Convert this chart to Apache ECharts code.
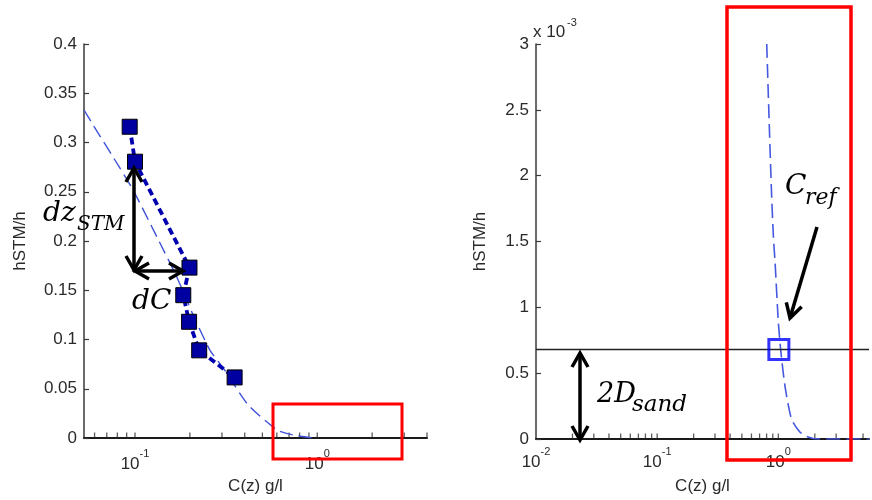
<!DOCTYPE html>
<html><head><meta charset="utf-8">
<script src="https://cdn.jsdelivr.net/npm/echarts@6/dist/echarts.min.js"></script>
<style>html,body{margin:0;padding:0;background:#fff}#c{width:872px;height:500px}</style>
</head><body><div id="c"></div>
<script>
// ---------- data ----------
// left panel: model curve (thin dashed)
const leftCurveX = [0.0525, 0.0588, 0.0827, 0.0975, 0.132, 0.170, 0.206, 0.258, 0.305, 0.418, 0.603, 0.738, 0.95];
const leftCurveY = [0.333, 0.318, 0.274, 0.252, 0.204, 0.163, 0.127, 0.089, 0.071, 0.0335, 0.0081, 0.003, 0];
// left panel: measured points (squares, thick dashed)
const measX = [0.0935, 0.100, 0.199, 0.184, 0.198, 0.225, 0.352];
const measY = [0.316, 0.2805, 0.173, 0.145, 0.118, 0.089, 0.0615];
// right panel: model curve near the bed (y in units of 1e-3)
const rightCurveX = [0.802, 0.844, 0.881, 0.910, 0.94, 1.0, 1.05, 1.135, 1.285, 1.505, 1.76, 2.13, 5.6];
const rightCurveY = [3.0, 2.35, 1.84, 1.54, 1.34, 0.886, 0.66, 0.40, 0.15, 0.053, 0.015, 0, 0];
// reference point and 2*D_sand level
const crefX = 1.01;
const sandLevel = 0.68;
// tick values
const leftYTicksMax = 0.4, leftYStep = 0.05;
const rightYTicksMax = 3, rightYStep = 0.5;
const leftXTicks = [0.06,0.07,0.08,0.09,0.1,0.2,0.3,0.4,0.5,0.6,0.7,0.8,0.9,1,2,3,4];
const rightXTicks = [0.02,0.03,0.04,0.05,0.06,0.07,0.08,0.09,0.1,0.2,0.3,0.4,0.5,0.6,0.7,0.8,0.9,1,2,3,4,5];
const xName = 'C(z) g/l';
const yName = 'hSTM/h';

// ---------- chart ----------
const FONT = '"Liberation Sans", Arial, sans-serif';
const TXT = '#2a2a2a';
const MATH = '"DejaVu Serif", serif';
const zip = (a, b) => a.map((v, i) => [v, b[i]]);

function pow10Label(v) {
  const e = Math.log10(v);
  const r = Math.round(e);
  if (Math.abs(e - r) > 1e-6) return '';
  return '{b|10}{s|' + r + '}';
}
const labelRich = {
  b: {fontSize: 17, fontFamily: FONT, color: TXT, verticalAlign: 'bottom', padding: [8, 0, 0, 0]},
  s: {fontSize: 11, fontFamily: FONT, color: TXT, verticalAlign: 'top'}
};

function xAxisCfg(idx, min, max, margin) {
  return {
    type: 'log', gridIndex: idx, min: min, max: max, logBase: 10,
    name: xName, nameLocation: 'middle', nameGap: 39,
    nameTextStyle: {fontSize: 17, fontFamily: FONT, color: TXT},
    axisLine: {onZero: false, lineStyle: {color: '#1a1a1a', width: 2}},
    axisTick: {show: false},
    splitLine: {show: false}, minorSplitLine: {show: false},
    axisLabel: {formatter: pow10Label, rich: labelRich, margin: margin, showMinLabel: true, showMaxLabel: true}
  };
}
function yAxisCfg(idx, max, step, gap) {
  return {
    type: 'value', gridIndex: idx, min: 0, max: max, interval: step,
    name: yName, nameLocation: 'middle', nameGap: gap,
    nameTextStyle: {fontSize: 17, fontFamily: FONT, color: TXT},
    axisLine: {show: true, onZero: false, lineStyle: {color: '#3a3a3a', width: 1.5}},
    axisTick: {show: true, inside: true, length: 5, lineStyle: {color: '#3a3a3a', width: 1.2}},
    splitLine: {show: false},
    axisLabel: {fontSize: 17, fontFamily: FONT, color: TXT, margin: 7}
  };
}
function tickSeries(idx, vals) {
  return {
    type: 'scatter', xAxisIndex: idx, yAxisIndex: idx, silent: true, z: 1,
    data: vals.map(v => [v, 0]), symbol: 'rect', symbolSize: [1.3, 5], symbolOffset: [0, -3],
    itemStyle: {color: '#333'}, animation: false
  };
}

// ---------- annotations (overlay) ----------
const ann = [];
function seg(pts, w) {
  ann.push({type: 'polyline', z: 100, shape: {points: pts}, style: {stroke: '#000', lineWidth: w || 3.5, fill: 'none', lineJoin: 'miter', lineCap: 'butt'}});
}
function head(tx, ty, fx, fy, len, half) {
  const dx = tx - fx, dy = ty - fy, L = Math.hypot(dx, dy);
  const ux = dx / L, uy = dy / L, px = -uy, py = ux;
  const bx = tx - ux * len, by = ty - uy * len;
  seg([[bx + px * half, by + py * half], [tx, ty], [bx - px * half, by - py * half]]);
}
function arrow(x1, y1, x2, y2, both) {
  seg([[x1, y1], [x2, y2]]);
  head(x2, y2, x1, y1, 14, 8);
  if (both) head(x1, y1, x2, y2, 14, 8);
}
function txt(s, x, y, size) {
  ann.push({type: 'text', z: 100, x: x, y: y, style: {text: s, font: 'italic ' + size + 'px ' + MATH, fill: '#000', textAlign: 'left', textVerticalAlign: 'middle', align: 'left', verticalAlign: 'middle'}});
}
function rect(x, y, w, h, lw) {
  ann.push({type: 'rect', z: 100, shape: {x: x, y: y, width: w, height: h}, style: {stroke: '#ff0000', lineWidth: lw, fill: 'none'}});
}
// left panel annotations
arrow(134, 270, 134, 168, true);
arrow(135, 271, 183, 271, true);
txt('dz', 43, 214, 28);
txt('STM', 77, 225, 20);
txt('dC', 132, 302, 28);
rect(273, 404, 129, 55, 3);
// right panel annotations
arrow(580, 440, 580, 353, true);
txt('2D', 597, 395, 27);
txt('sand', 632, 405, 23);
txt('C', 785, 187, 28);
txt('ref', 805, 198, 22);
arrow(817, 227, 790, 318, false);
rect(727, 7, 124, 453, 3.5);
// exponent note of right y axis
ann.push({type: 'text', z: 100, x: 533, y: 32, style: {text: 'x 10', font: '17px ' + FONT, fill: TXT, textVerticalAlign: 'middle', verticalAlign: 'middle'}});
ann.push({type: 'text', z: 100, x: 567, y: 23, style: {text: '-3', font: '11px ' + FONT, fill: TXT, textVerticalAlign: 'middle', verticalAlign: 'middle'}});

const option = {
  backgroundColor: '#fff',
  animation: false,
  grid: [
    {left: 84, top: 44, bottom: 62, right: 445, containLabel: false},
    {left: 536, top: 44, bottom: 60, right: 0, containLabel: false}
  ],
  xAxis: [xAxisCfg(0, 0.0525, 4, 10), xAxisCfg(1, 0.01, 5.6, 7)],
  yAxis: [yAxisCfg(0, leftYTicksMax, leftYStep, 55), yAxisCfg(1, rightYTicksMax, rightYStep, 47)],
  series: [
    tickSeries(0, leftXTicks),
    tickSeries(1, rightXTicks),
    {
      type: 'line', xAxisIndex: 0, yAxisIndex: 0, data: zip(leftCurveX, leftCurveY),
      showSymbol: false, smooth: 0.2, z: 3,
      lineStyle: {color: '#3f52d8', width: 1.4, type: [13, 6]}
    },
    {
      type: 'line', xAxisIndex: 0, yAxisIndex: 0, data: zip(measX, measY),
      symbol: 'rect', symbolSize: 15, showSymbol: true, z: 4,
      lineStyle: {color: '#0000b0', width: 3.8, type: [7, 4]},
      itemStyle: {color: '#0000a0', borderColor: '#000', borderWidth: 1}
    },
    {
      type: 'line', xAxisIndex: 1, yAxisIndex: 1, data: zip(rightCurveX, rightCurveY),
      showSymbol: false, smooth: 0.2, z: 3,
      lineStyle: {color: '#4558e0', width: 1.6, type: [14, 6]},
      markLine: {
        silent: true, symbol: ['none', 'none'], label: {show: false},
        lineStyle: {color: '#222', width: 1.3, type: 'solid'},
        data: [{yAxis: sandLevel}]
      }
    },
    {
      type: 'scatter', xAxisIndex: 1, yAxisIndex: 1, data: [[crefX, sandLevel]], z: 5,
      symbol: 'rect', symbolSize: 20,
      itemStyle: {color: 'rgba(0,0,0,0)', borderColor: '#0000ff', borderWidth: 3}
    }
  ],
  graphic: ann
};
const chart = echarts.init(document.getElementById('c'), null, {renderer: 'canvas'});
chart.setOption(option);
</script>
</body></html>
